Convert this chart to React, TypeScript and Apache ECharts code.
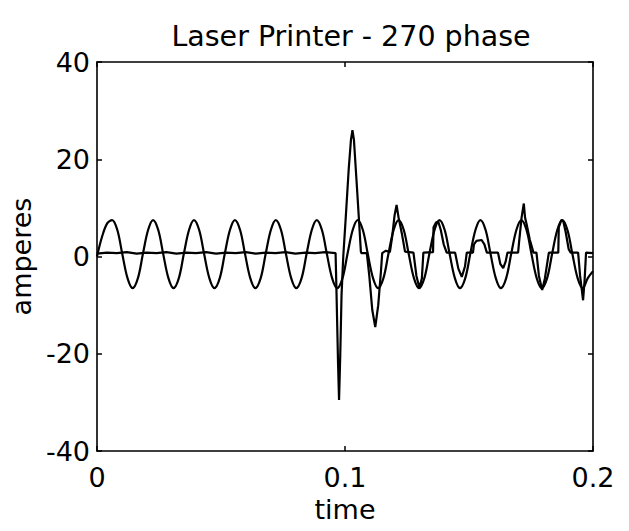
import React, { useEffect, useRef } from "react";
import * as echarts from "echarts";

// Supply-voltage-like sinusoid (time s, amperes)
const sinePoints: [number, number][] = [
  [0.0, 0.0], [0.002, 4.0], [0.0041, 6.8], [0.0061, 7.5],
  [0.0082, 5.45], [0.0102, 0.5], [0.0123, -4.45], [0.01435, -6.5], [0.0165, -4.45], [0.0185, 0.5], [0.0206, 5.45], [0.0226, 7.5],
  [0.0247, 5.45], [0.0267, 0.5], [0.0288, -4.45], [0.03085, -6.5], [0.033, -4.45], [0.035, 0.5], [0.0371, 5.45], [0.0391, 7.5],
  [0.0412, 5.45], [0.0432, 0.5], [0.0453, -4.45], [0.04735, -6.5], [0.0495, -4.45], [0.0515, 0.5], [0.0536, 5.45], [0.0556, 7.5],
  [0.0577, 5.45], [0.0597, 0.5], [0.0618, -4.45], [0.06385, -6.5], [0.066, -4.45], [0.068, 0.5], [0.0701, 5.45], [0.0721, 7.5],
  [0.0742, 5.45], [0.0762, 0.5], [0.0783, -4.45], [0.08035, -6.5], [0.0825, -4.45], [0.0845, 0.5], [0.0866, 5.45], [0.0886, 7.5],
  [0.0907, 5.45], [0.0927, 0.5], [0.0948, -4.45], [0.09685, -6.5], [0.099, -4.45], [0.101, 0.5], [0.1031, 5.45], [0.1051, 7.5],
  [0.1072, 5.45], [0.1092, 0.5], [0.1113, -4.45], [0.11335, -6.5], [0.1155, -4.45], [0.1175, 0.5], [0.1196, 5.45], [0.1216, 7.5],
  [0.1237, 5.45], [0.1257, 0.5], [0.1278, -4.45], [0.12985, -6.5], [0.132, -4.45], [0.134, 0.5], [0.1361, 5.45], [0.1381, 7.5],
  [0.1402, 5.45], [0.1422, 0.5], [0.1443, -4.45], [0.14635, -6.5], [0.1485, -4.45], [0.1505, 0.5], [0.1526, 5.45], [0.1546, 7.5],
  [0.1567, 5.45], [0.1587, 0.5], [0.1608, -4.45], [0.16285, -6.5], [0.165, -4.45], [0.167, 0.5], [0.1691, 5.45], [0.1711, 7.5],
  [0.1732, 5.45], [0.1752, 0.5], [0.1773, -4.45], [0.17935, -6.5], [0.1815, -4.45], [0.1835, 0.5], [0.1856, 5.45], [0.1876, 7.5],
  [0.1897, 5.45], [0.1917, 0.5], [0.1938, -4.45], [0.19585, -6.5], [0.1979, -4.45], [0.2, -3.0],
];

// Laser printer load current (time s, amperes)
const loadPoints: [number, number][] = [
  [0.0, 0.6], [0.004, 0.8], [0.008, 0.7], [0.012, 0.9], [0.016, 0.6], [0.02, 0.8], [0.024, 0.7], [0.028, 0.9],
  [0.032, 0.6], [0.036, 0.8], [0.04, 0.7], [0.044, 0.9], [0.048, 0.6], [0.052, 0.8], [0.056, 0.7], [0.06, 0.9],
  [0.064, 0.6], [0.068, 0.8], [0.072, 0.7], [0.076, 0.9], [0.08, 0.6], [0.084, 0.8], [0.088, 0.7], [0.092, 0.9],
  [0.0962, 0.7], [0.0966, -8], [0.0972, -22], [0.0976, -29.5], [0.0981, -20], [0.0986, -8], [0.0993, 0],
  [0.1003, 8], [0.1015, 18], [0.1024, 24], [0.103, 26], [0.1036, 24], [0.1046, 16], [0.1057, 7], [0.1064, 1],
  [0.1066, 0.7], [0.1088, 0.7], [0.1098, -4], [0.111, -11], [0.1122, -14.5], [0.1134, -10], [0.1145, -3], [0.115, 0.7],
  [0.1165, 1.2], [0.1181, 0.9], [0.119, 4], [0.12, 8.5], [0.1208, 10.6], [0.1216, 8], [0.1229, 4.8], [0.1242, 1.0],
  [0.1276, 0.8], [0.1288, -4], [0.13, -6.5], [0.131, -4.5], [0.1316, 0.8],
  [0.1355, 0.9], [0.1357, 6.0], [0.1367, 7.0], [0.1376, 7.2], [0.1386, 5.5], [0.1398, 2.5], [0.141, 0.8],
  [0.1444, 0.8], [0.1457, -2.5], [0.1471, -4.2], [0.1484, -2], [0.1491, 0.8],
  [0.1516, 0.8], [0.152, 2.5], [0.153, 3.2], [0.1551, 3.4], [0.1562, 2.5], [0.1572, 0.8],
  [0.1617, 0.8], [0.1626, -1.5], [0.1638, -2.4], [0.1648, -1], [0.1655, 0.8],
  [0.1698, 0.8], [0.1702, 3], [0.1712, 8], [0.1721, 10.9], [0.1726, 8], [0.1733, 6.5], [0.1745, 3.5], [0.176, 0.8],
  [0.1772, 0.8], [0.1782, -4], [0.1795, -6.9], [0.1806, -4.5], [0.1822, 0.8],
  [0.186, 0.8], [0.1862, 6.0], [0.1872, 7.5], [0.188, 7.3], [0.189, 5.0], [0.1902, 1.5], [0.191, 0.8],
  [0.194, 0.8], [0.1948, -4], [0.196, -9], [0.1966, -5], [0.1972, 0.8], [0.2, 0.7],
];

const xMin = 0;
const xMax = 0.2;
const xStep = 0.1;
const yMin = -40;
const yMax = 40;
const yStep = 20;

const titleText = "Laser Printer - 270 phase";
const xName = "time";
const yName = "amperes";

const FONT = "DejaVu Sans, Liberation Sans, Arial, sans-serif";

export default function App() {
  const ref = useRef<HTMLDivElement>(null);
  useEffect(() => {
    const chart = echarts.init(ref.current!, null, { renderer: "svg" });
    const axisLine = { show: true, onZero: false, lineStyle: { color: "#000", width: 1.6 } };
    const axisTick = { show: true, inside: true, length: 5, lineStyle: { color: "#000", width: 1.5 } };
    const label = { fontSize: 27, color: "#000", fontFamily: FONT };
    chart.setOption({
      animation: false,
      backgroundColor: "#fff",
      title: {
        text: titleText,
        left: 346,
        top: 17,
        textAlign: "center",
        textStyle: { fontSize: 28.5, fontWeight: "normal", color: "#000", fontFamily: FONT },
      },
      grid: { left: 97, right: 36, top: 62, bottom: 80, show: false },
      xAxis: [
        {
          type: "value", min: xMin, max: xMax, interval: xStep, position: "bottom",
          axisLine, axisTick, splitLine: { show: false },
          axisLabel: { ...label, margin: 13 },
          name: xName, nameLocation: "middle", nameGap: 31,
          nameTextStyle: { ...label },
        },
        {
          type: "value", min: xMin, max: xMax, interval: xStep, position: "top",
          axisLine, axisTick, splitLine: { show: false }, axisLabel: { show: false },
        },
      ],
      yAxis: [
        {
          type: "value", min: yMin, max: yMax, interval: yStep, position: "left",
          axisLine, axisTick, splitLine: { show: false },
          axisLabel: { ...label, margin: 7 },
          name: yName, nameLocation: "middle", nameGap: 62,
          nameTextStyle: { ...label },
        },
        {
          type: "value", min: yMin, max: yMax, interval: yStep, position: "right",
          axisLine, axisTick, splitLine: { show: false }, axisLabel: { show: false },
        },
      ],
      series: [
        {
          type: "line", data: sinePoints, showSymbol: false, smooth: 0.35,
          lineStyle: { color: "#000", width: 2.2 }, xAxisIndex: 0, yAxisIndex: 0,
        },
        {
          type: "line", data: loadPoints, showSymbol: false, smooth: false,
          lineStyle: { color: "#000", width: 2.2 }, xAxisIndex: 0, yAxisIndex: 0,
        },
      ],
    });
    return () => chart.dispose();
  }, []);
  return (
    <div
      ref={ref}
      style={{ position: "fixed", left: 0, top: 0, width: 629, height: 531, background: "#fff" }}
    />
  );
}
